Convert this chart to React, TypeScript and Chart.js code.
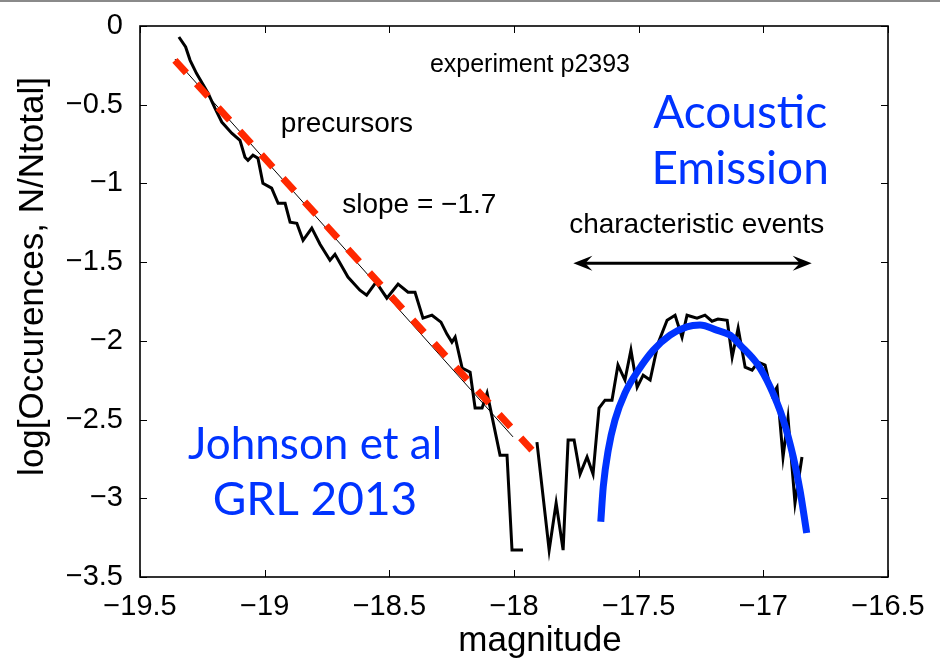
import React, { useEffect, useRef } from 'react';
import { Chart, registerables } from 'chart.js';

Chart.register(...registerables);

// ---- data ----
const magnitude = [
  -19.344, -19.317, -19.299, -19.273, -19.227, -19.199, -19.172, -19.132, -19.099, -19.079,
  -19.067, -19.047, -19.027, -19.007, -18.972, -18.946, -18.918, -18.898, -18.871, -18.846,
  -18.811, -18.778, -18.738, -18.718, -18.666, -18.618, -18.591, -18.553, -18.51, -18.465,
  -18.425, -18.397, -18.365, -18.329, -18.293, -18.269, -18.249, -18.236, -18.208, -18.176,
  -18.156, -18.128, -18.108, -18.096, -18.056, -18.028, -18.008, -17.964, -17.936, -17.908,
  -17.859, -17.831, -17.803, -17.783, -17.759, -17.735, -17.707, -17.683, -17.659, -17.635,
  -17.607, -17.583, -17.555, -17.531, -17.506, -17.482, -17.454, -17.422, -17.386, -17.354,
  -17.326, -17.306, -17.266, -17.234, -17.206, -17.182, -17.145, -17.125, -17.101, -17.073,
  -17.045, -17.021, -16.993, -16.965, -16.945, -16.921, -16.901, -16.873, -16.845,
];
const logOccurrences: (number | null)[] = [
  -0.07, -0.133, -0.218, -0.302, -0.427, -0.523, -0.61, -0.681, -0.726, -0.834,
  -0.853, -0.821, -0.84, -0.999, -1.03, -1.126, -1.126, -1.246, -1.253, -1.361,
  -1.284, -1.386, -1.488, -1.45, -1.595, -1.678, -1.71, -1.627, -1.729, -1.64,
  -1.691, -1.691, -1.856, -1.837, -1.881, -1.957, -2.008, -1.976, -2.173, -2.199,
  -2.427, -2.427, -2.332, -2.421, -2.726, -2.726, -3.329, -3.329, null, -2.643,
  -3.329, -3.03, -3.329, -2.63, -2.63, -2.846, -2.738, -2.846, -2.427, -2.377,
  -2.377, -2.154, -2.249, -2.059, -2.294, -2.218, -2.249, -2.015, -1.869, -1.837,
  -1.977, -1.837, -1.856, -1.837, -1.875, -1.862, -1.869, -2.103, -1.919, -2.167,
  -2.186, -2.135, -2.154, -2.345, -2.294, -2.738, -2.491, -3.03, -2.738,
];

// power-law fit (slope -1.7)
const fitMagnitude = [-19.36, -17.928];
const fitLog = [-0.218, -2.694];
const thinFitMagnitude = [-19.36, -18.004];
const thinFitLog = [-0.21, -2.61];

// characteristic-event fit
const aeMagnitude = [
  -17.652, -17.642, -17.622, -17.595, -17.555, -17.501, -17.441, -17.374, -17.307, -17.254,
  -17.187, -17.133, -17.093, -17.026, -16.973, -16.92, -16.88, -16.853, -16.826,
];
const aeLog = [
  -3.149, -2.927, -2.694, -2.503, -2.332, -2.186, -2.059, -1.964, -1.911, -1.9,
  -1.932, -1.964, -2.027, -2.143, -2.292, -2.503, -2.737, -2.948, -3.221,
];

// arrow "characteristic events"
const arrowMagnitude = [-17.762, -16.806];
const arrowLog = -1.507;

const xMin = -19.5, xMax = -16.5, xStep = 0.5;
const yMin = -3.5, yMax = 0, yStep = 0.5;

// ---- styles / layout ----
const BLUE = 'rgb(0,51,255)';
const RED = 'rgb(255,40,0)';
const SANS = '"Liberation Sans", Arial, Helvetica, sans-serif';
const HUMANIST = 'Lato, "Open Sans", sans-serif';

type Label = { text: string; x: number; y: number; font: string; color: string };
const labels: Label[] = [
  { text: 'experiment p2393', x: -17.936, y: -0.292, font: `25px ${SANS}`, color: '#000' },
  { text: 'precursors', x: -18.67, y: -0.673, font: `28px ${SANS}`, color: '#000' },
  { text: 'slope = \u22121.7', x: -18.38, y: -1.189, font: `28px ${SANS}`, color: '#000' },
  { text: 'characteristic events', x: -17.267, y: -1.318, font: `28px ${SANS}`, color: '#000' },
  { text: 'Acoustic', x: -17.093, y: -0.651, font: `46px ${HUMANIST}`, color: BLUE },
  { text: 'Emission', x: -17.093, y: -1.001, font: `46px ${HUMANIST}`, color: BLUE },
  { text: 'Johnson et al', x: -18.798, y: -2.751, font: `44px ${HUMANIST}`, color: BLUE },
  { text: 'GRL 2013', x: -18.798, y: -3.107, font: `46px ${HUMANIST}`, color: BLUE },
];

const fmt = (v: number) => String(Math.round(v * 10) / 10).replace('-', '\u2212');

const framePlugin = {
  id: 'frameAndText',
  afterDatasetsDraw(chart: any) {
    const { ctx, chartArea: a, scales } = chart;
    const xs = scales.x, ys = scales.y;
    ctx.save();
    // top gray border line of figure
    ctx.fillStyle = '#8a8a8a';
    ctx.fillRect(0, 0, chart.width, 2);

    // axes box
    ctx.strokeStyle = '#000';
    ctx.lineWidth = 1.6;
    ctx.strokeRect(a.left, a.top, a.right - a.left, a.bottom - a.top);

    // inner ticks on all four sides
    ctx.lineWidth = 1;
    const tl = 7;
    ctx.beginPath();
    for (const t of xs.ticks) {
      const px = Math.round(xs.getPixelForValue(t.value)) + 0.5;
      ctx.moveTo(px, a.bottom); ctx.lineTo(px, a.bottom - tl);
      ctx.moveTo(px, a.top); ctx.lineTo(px, a.top + tl);
    }
    for (const t of ys.ticks) {
      const py = Math.round(ys.getPixelForValue(t.value)) + 0.5;
      ctx.moveTo(a.left, py); ctx.lineTo(a.left + tl, py);
      ctx.moveTo(a.right, py); ctx.lineTo(a.right - tl, py);
    }
    ctx.stroke();

    // double-headed arrow
    const ax1 = xs.getPixelForValue(arrowMagnitude[0]);
    const ax2 = xs.getPixelForValue(arrowMagnitude[1]);
    const ay = ys.getPixelForValue(arrowLog);
    ctx.lineWidth = 3;
    ctx.beginPath();
    ctx.moveTo(ax1 + 8, ay); ctx.lineTo(ax2 - 8, ay);
    ctx.stroke();
    ctx.fillStyle = '#000';
    const head = (tip: number, dir: number) => {
      ctx.beginPath();
      ctx.moveTo(tip, ay);
      ctx.lineTo(tip + dir * 19, ay - 7.5);
      ctx.lineTo(tip + dir * 12, ay);
      ctx.lineTo(tip + dir * 19, ay + 7.5);
      ctx.closePath();
      ctx.fill();
    };
    head(ax1, 1);
    head(ax2, -1);

    // annotations
    ctx.textAlign = 'center';
    ctx.textBaseline = 'alphabetic';
    for (const l of labels) {
      ctx.font = l.font;
      ctx.fillStyle = l.color;
      ctx.fillText(l.text, xs.getPixelForValue(l.x), ys.getPixelForValue(l.y));
    }

    // axis titles
    ctx.fillStyle = '#000';
    ctx.font = `35px ${SANS}`;
    ctx.fillText('magnitude', 540, 651);
    ctx.translate(43, 276.5);
    ctx.rotate(-Math.PI / 2);
    ctx.fillText('log[Occurences, N/Ntotal]', 0, 0);
    ctx.restore();
  },
};

export default function App() {
  const ref = useRef<HTMLCanvasElement | null>(null);
  useEffect(() => {
    document.body.style.margin = '0';
    const canvas = ref.current!;
    const pts = (xs: number[], ys: (number | null)[]) => xs.map((x, i) => ({ x, y: ys[i] }));
    const chart = new Chart(canvas, {
      type: 'scatter',
      data: {
        datasets: [
          {
            data: pts(magnitude, logOccurrences) as any,
            showLine: true,
            spanGaps: false,
            borderColor: '#000',
            borderWidth: 3,
            pointRadius: 0,
            tension: 0,
            order: 3,
          },
          {
            data: pts(thinFitMagnitude, thinFitLog),
            showLine: true,
            borderColor: '#000',
            borderWidth: 1,
            pointRadius: 0,
            order: 2,
          },
          {
            data: pts(aeMagnitude, aeLog),
            showLine: true,
            borderColor: BLUE,
            borderWidth: 7,
            pointRadius: 0,
            cubicInterpolationMode: 'monotone',
            borderCapStyle: 'butt',
            order: 1,
          },
          {
            data: pts(fitMagnitude, fitLog),
            showLine: true,
            borderColor: RED,
            borderWidth: 7,
            borderDash: [17, 15],
            borderCapStyle: 'butt',
            pointRadius: 0,
            order: 0,
          },
        ],
      },
      options: {
        animation: false,
        responsive: false,
        maintainAspectRatio: false,
        layout: { padding: { left: 0, right: 52, top: 26, bottom: 0 } },
        plugins: { legend: { display: false }, tooltip: { enabled: false } },
        scales: {
          x: {
            type: 'linear',
            min: xMin,
            max: xMax,
            grid: { display: false, drawTicks: false },
            border: { display: false },
            ticks: {
              stepSize: xStep,
              autoSkip: false,
              maxRotation: 0,
              padding: 13,
              color: '#000',
              font: { family: SANS, size: 29 },
              callback: (v: any) => fmt(Number(v)),
            },
            afterFit: (s: any) => {
              s.height = 85;
              s.paddingLeft = 0;
              s.paddingRight = 0;
            },
          },
          y: {
            type: 'linear',
            min: yMin,
            max: yMax,
            grid: { display: false, drawTicks: false },
            border: { display: false },
            ticks: {
              stepSize: yStep,
              autoSkip: false,
              padding: 17,
              color: '#000',
              font: { family: SANS, size: 29 },
              callback: (v: any) => fmt(Number(v)),
            },
            afterFit: (s: any) => {
              s.width = 140;
              s.paddingTop = 0;
              s.paddingBottom = 0;
            },
          },
        },
      },
      plugins: [framePlugin],
    });
    return () => chart.destroy();
  }, []);
  return (
    <div style={{ position: 'absolute', left: 0, top: 0, width: 940, height: 662, background: '#fff' }}>
      <canvas ref={ref} width={940} height={662} style={{ display: 'block' }} />
    </div>
  );
}
